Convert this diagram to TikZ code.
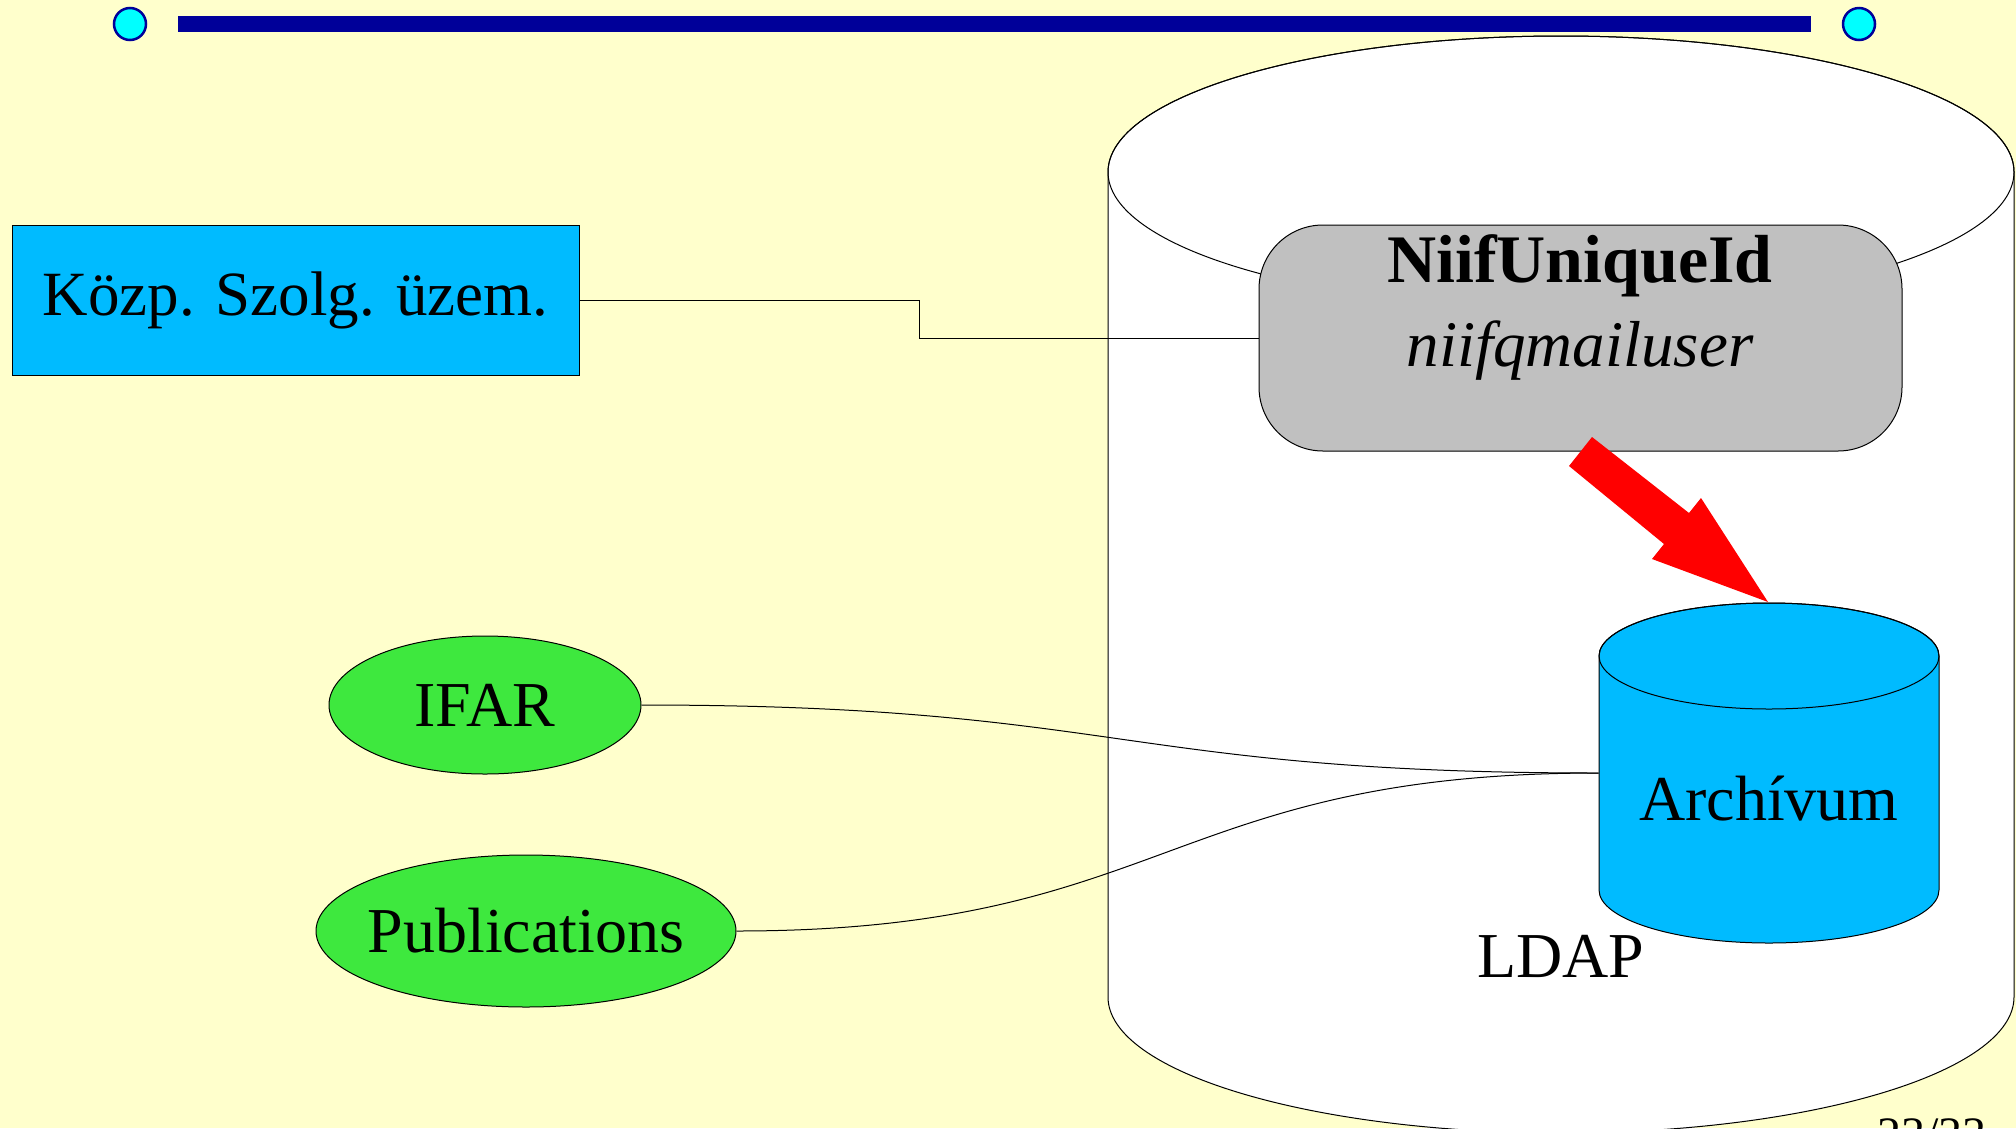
\documentclass[tikz,border=0pt]{standalone}
\usepackage{fontspec}
\setmainfont{Liberation Serif}
\usetikzlibrary{shapes.geometric}
\definecolor{bg}{RGB}{255,255,204}
\definecolor{navy}{RGB}{0,0,153}
\definecolor{aqua}{RGB}{0,255,255}
\definecolor{skyb}{RGB}{0,187,255}
\definecolor{grn}{RGB}{62,232,62}
\definecolor{gry}{RGB}{192,192,192}
\begin{document}
\begin{tikzpicture}[x=1pt,y=-1pt,line width=1pt,
  bigtext/.style={font=\fontsize{64}{70}\selectfont},
  dot/.style={draw=navy,line width=2.5pt,fill=aqua,circle,minimum size=32pt,inner sep=0pt},
  oval/.style={ellipse,draw,fill=grn,inner sep=0pt,bigtext},
  link/.style={draw,line width=1pt}]
\useasboundingbox (0,0) rectangle (2016,1128);
\fill[bg] (0,0) rectangle (2016,1128);
\clip (0,0) rectangle (2016,1128);
% top bar
\fill[navy] (178,16) rectangle (1811,32);
\node[dot] (dl) at (130,24) {};
\node[dot] (dr) at (1859,24) {};
% big LDAP cylinder
\draw[fill=white] (1108,172) -- (1108,997)
  arc[start angle=180,end angle=360,x radius=453pt,y radius=136pt]
  -- (2014,172)
  arc[start angle=0,end angle=180,x radius=453pt,y radius=136pt] -- cycle;
\draw (1561,172) ellipse[x radius=453pt,y radius=136pt];
\node[bigtext,anchor=base] (ldap) at (1561,977) {LDAP};
% gray box
\node[draw,fill=gry,rounded corners=64pt,minimum width=643pt,minimum height=226pt,inner sep=0pt] (nid) at (1580.5,338) {};
\node[anchor=base,font=\fontsize{68}{72}\selectfont\bfseries] (nidt) at (1580,282) {NiifUniqueId};
\node[anchor=base,font=\fontsize{65}{70}\selectfont\itshape] (nidu) at (1580,366) {niifqmailuser};
% Kozp box
\node[draw,fill=skyb,minimum width=567pt,minimum height=150pt,inner sep=0pt,font=\fontsize{63}{70}\selectfont] (kozp) at (295.5,300) {Közp. Szolg. üzem.};
\draw[link] (kozp.east) -- (919,300) |- (nid.west);
% ellipses
\node[oval,minimum width=312pt,minimum height=138pt] (ifar) at (485,705) {\makebox[0pt]{IFAR}};
\node[oval,minimum width=420pt,minimum height=152pt] (pub) at (526,931) {\makebox[0pt]{Publications}};
% Archivum cylinder
\draw[fill=skyb] (1599,656) -- (1599,890)
  arc[start angle=180,end angle=360,x radius=170pt,y radius=53pt]
  -- (1939,656)
  arc[start angle=0,end angle=180,x radius=170pt,y radius=53pt] -- cycle;
\draw (1769,656) ellipse[x radius=170pt,y radius=53pt];
\node[minimum width=340pt,minimum height=340pt,inner sep=0pt] (arch) at (1769,773) {};
\node[bigtext,anchor=base] (archt) at (1769,820) {Archívum};
% curves
\draw[link] (ifar.east) .. controls (1120,705) and (1120,773) .. (arch.west);
\draw[link] (pub.east) .. controls (1167,931) and (1167,773) .. (arch.west);
% red arrow
\fill[red] (1592,437) -- (1689,513) -- (1701,498) -- (1768,602) -- (1652,559) -- (1664,544) -- (1569,466) -- cycle;
% page number
\node[anchor=base,font=\fontsize{48}{50}\selectfont] (pg) at (1932,1150) {23/33};
\end{tikzpicture}
\end{document}
